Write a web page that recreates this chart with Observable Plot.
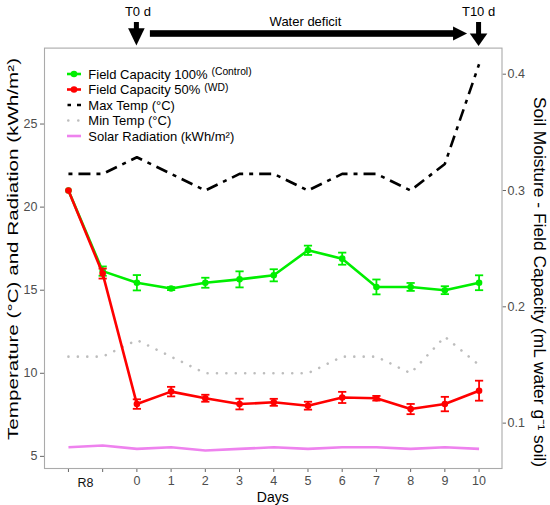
<!DOCTYPE html>
<html><head><meta charset="utf-8">
<script src="https://cdn.jsdelivr.net/npm/d3@7"></script>
<script src="https://cdn.jsdelivr.net/npm/@observablehq/plot@0.6"></script>
<style>
body{margin:0;background:#fff;}
#chart svg{display:block}
</style></head><body><div id="chart"></div>
<script>
// ---- data ----
const days = [-2,-1,0,1,2,3,4,5,6,7,8,9,10];
const xTickLabels = ["","","0","1","2","3","4","5","6","7","8","9","10"];
const periodLabels = ["R8"];
const periodDays = [-1.5];
// soil moisture, mL water g^-1 soil
const fc100 = [0.300,0.2307,0.2207,0.2157,0.2207,0.2236,0.2271,0.2486,0.2414,0.2171,0.2171,0.2143,0.2207];
const fc100se = [0,0.0040,0.0066,0.0013,0.0043,0.0069,0.0052,0.0040,0.0052,0.0064,0.0034,0.0034,0.0064];
const fc50 = [0.300,0.2286,0.1164,0.1271,0.1214,0.1164,0.1179,0.1150,0.1221,0.1214,0.1121,0.1164,0.1279];
const fc50se = [0,0.0043,0.0041,0.0041,0.0030,0.0046,0.0030,0.0034,0.0048,0.0020,0.0044,0.0062,0.0086];
// temperature (°C) and radiation (kWh/m²)
const maxTemp = [22,22,23,22,21,22,22,21,22,22,21,22.6,28.6];
const minTemp = [11,11,12,11,10,10,10,10,11,11,10,12.2,10.5];
const solarRad = [5.55,5.65,5.45,5.55,5.35,5.45,5.55,5.45,5.55,5.55,5.45,5.55,5.45];
const leftTicks = [5,10,15,20,25];
const rightTicks = [0.1,0.2,0.3,0.4];
const secondaryFactor = 70; // left units per soil-moisture unit
const phaseLabels = ["T0 d","T10 d"];
const phaseDays = [0,10];
const deficitLabel = "Water deficit";

// ---- tables ----
const smRows = (vals, se, series) => days.map((d,i)=>({day:d, series, v:vals[i]*secondaryFactor,
  lo:(vals[i]-se[i])*secondaryFactor, hi:(vals[i]+se[i])*secondaryFactor, se:se[i]}));
const rows100 = smRows(fc100, fc100se, "100");
const rows50 = smRows(fc50, fc50se, "50");
const tRows = (vals) => days.map((d,i)=>({day:d, v:vals[i]}));
const maxRows = tRows(maxTemp), minRows = tRows(minTemp), solRows = tRows(solarRad);
const periods = periodLabels.map((l,i)=>({label:l, day:periodDays[i]}));

const GREEN="#00ee00", RED="#ff0000";
const capHalf = 0.12;
const errMarks = (rows, color) => {
  const r = rows.filter(d=>d.se>0);
  return [
    Plot.link(r, {x1:"day", x2:"day", y1:"lo", y2:"hi", stroke:color, strokeWidth:1.8}),
    Plot.link(r, {x1:d=>d.day-capHalf, x2:d=>d.day+capHalf, y1:"lo", y2:"lo", stroke:color, strokeWidth:1.8}),
    Plot.link(r, {x1:d=>d.day-capHalf, x2:d=>d.day+capHalf, y1:"hi", y2:"hi", stroke:color, strokeWidth:1.8})
  ];
};

const FONT = "'Liberation Sans', Arial, Helvetica, sans-serif";
const chart = Plot.plot({
  width:550, height:505,
  marginLeft:44, marginRight:48.5, marginTop:47.6, marginBottom:37,
  x:{domain:[-2.7,10.67]},
  y:{domain:[4.27,29.57]},
  style:{fontFamily:FONT, fontSize:"12px", background:"#fff", overflow:"visible"},
  marks:[
    Plot.axisX({ticks:days, tickFormat:d=>xTickLabels[days.indexOf(d)], tickSize:4, tickPadding:4,
      stroke:"#666", fill:"#4d4d4d", fontSize:12.5, label:null}),
    Plot.text(periods, {x:"day", text:"label", frameAnchor:"bottom", dy:14, lineAnchor:"middle", fill:"#111", fontSize:12.5}),
    Plot.axisY({ticks:leftTicks, anchor:"left", tickSize:4, tickPadding:3, stroke:"#666", fill:"#4d4d4d", fontSize:12.5, label:null}),
    Plot.axisY({ticks:rightTicks.map(v=>v*secondaryFactor), tickFormat:v=>(v/secondaryFactor).toFixed(1),
      anchor:"right", tickSize:3.5, tickPadding:2, stroke:"#666", fill:"#4d4d4d", fontSize:12.5, label:null}),
    Plot.lineY(minRows, {x:"day", y:"v", stroke:"#bdbdbd", strokeWidth:2.6, strokeLinecap:"round", strokeDasharray:"0.01,9.4"}),
    Plot.lineY(maxRows, {x:"day", y:"v", stroke:"#000", strokeWidth:2.6, strokeLinecap:"butt", strokeLinejoin:"miter", strokeDasharray:"4,6,12,6"}),
    Plot.lineY(solRows, {x:"day", y:"v", stroke:"#ee82ee", strokeWidth:2.6, strokeLinecap:"butt"}),
    Plot.lineY(rows100, {x:"day", y:"v", stroke:GREEN, strokeWidth:2.6, strokeLinecap:"butt"}),
    ...errMarks(rows100, GREEN),
    Plot.dot(rows100, {x:"day", y:"v", fill:GREEN, r:3.3}),
    Plot.lineY(rows50, {x:"day", y:"v", stroke:RED, strokeWidth:2.6, strokeLinecap:"butt"}),
    ...errMarks(rows50, RED),
    Plot.dot(rows50, {x:"day", y:"v", fill:RED, r:3.3}),
    Plot.frame({stroke:"#aaaaaa", strokeWidth:1.1})
  ]
});
document.getElementById("chart").appendChild(chart);

// ---- annotations, titles, legend ----
const svg = d3.select(chart);
const xs = chart.scale("x");
const x0 = xs.apply(phaseDays[0]), x10 = xs.apply(phaseDays[1]);
const ann = svg.append("g").attr("fill","#000").attr("font-family",FONT).attr("text-anchor","middle");
// T0 arrow
ann.append("rect").attr("x",x0-2.5).attr("y",22).attr("width",5).attr("height",8);
ann.append("path").attr("d",`M${x0-8.3},28.3L${x0+8.3},28.3L${x0},45.5Z`);
// T10 arrow
ann.append("rect").attr("x",x10-2.5).attr("y",22).attr("width",5).attr("height",13);
ann.append("path").attr("d",`M${x10-8.8},33.5L${x10+8.8},33.5L${x10},46Z`);
// horizontal arrow
const hx1 = x0+13.5, hx2 = x10-11.5;
ann.append("rect").attr("x",hx1).attr("y",30.2).attr("width",hx2-14-hx1+1).attr("height",6.6);
ann.append("path").attr("d",`M${hx2-14},26.5L${hx2-14},40.5L${hx2},33.5Z`);
ann.append("text").attr("x",x0+1.5).attr("y",16).attr("font-size",13).text(phaseLabels[0]);
ann.append("text").attr("x",x10).attr("y",16).attr("font-size",13).text(phaseLabels[1]);
ann.append("text").attr("x",(x0+x10)/2-2).attr("y",25.5).attr("font-size",13).text(deficitLabel);

// axis titles
const t = svg.append("g").attr("fill","#000").attr("font-family",FONT).attr("text-anchor","middle");
t.append("text").attr("transform","translate(17.5,249) rotate(-90)")
  .attr("font-size",15).attr("textLength",382).attr("lengthAdjust","spacingAndGlyphs")
  .text("Temperature (°C) and Radiation (kWh/m²)");
t.append("text").attr("transform","translate(533.5,282) rotate(90)")
  .attr("font-size",16).attr("textLength",370).attr("lengthAdjust","spacingAndGlyphs")
  .text("Soil Moisture - Field Capacity (mL water g⁻¹ soil)");
t.append("text").attr("x",272.75).attr("y",501.5).attr("font-size",14).text("Days");

// legend
const lg = svg.append("g").attr("font-family",FONT).attr("font-size",13).attr("text-anchor","start");
const ly = [74, 89.5, 105, 120.5, 136];
const entries = [
  {kind:"pt", color:GREEN, text:"Field Capacity 100%", sup:"(Control)"},
  {kind:"pt", color:RED, text:"Field Capacity 50%", sup:"(WD)"},
  {kind:"dash", color:"#000", text:"Max Temp (°C)"},
  {kind:"dot", color:"#bdbdbd", text:"Min Temp (°C)"},
  {kind:"line", color:"#ee82ee", text:"Solar Radiation (kWh/m²)"}
];
entries.forEach((e,i)=>{
  const y = ly[i];
  if (e.kind==="pt") {
    lg.append("line").attr("x1",67).attr("x2",81).attr("y1",y).attr("y2",y).attr("stroke",e.color).attr("stroke-width",2.6);
    lg.append("circle").attr("cx",74).attr("cy",y).attr("r",3.3).attr("fill",e.color);
  } else if (e.kind==="dash") {
    lg.append("line").attr("x1",67.5).attr("x2",81).attr("y1",y).attr("y2",y).attr("stroke",e.color).attr("stroke-width",2.6).attr("stroke-dasharray","3.5,6,4");
  } else if (e.kind==="dot") {
    lg.append("line").attr("x1",68.3).attr("x2",80).attr("y1",y).attr("y2",y).attr("stroke",e.color).attr("stroke-width",2.6)
      .attr("stroke-linecap","round").attr("stroke-dasharray","0.01,10");
  } else {
    lg.append("line").attr("x1",67).attr("x2",81).attr("y1",y).attr("y2",y).attr("stroke",e.color).attr("stroke-width",2.6);
  }
  const tx = lg.append("text").attr("x",88.3).attr("y",y+4.6).attr("fill","#000").text(e.text);
  if (e.sup) tx.append("tspan").attr("dx",4).attr("dy",-3.5).attr("font-size",10.3).text(e.sup);
});
</script></body></html>
